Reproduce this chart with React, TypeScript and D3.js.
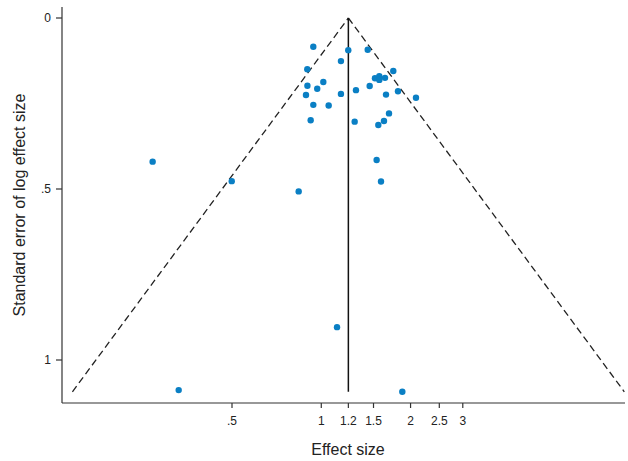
import React from "react";
import * as d3 from "d3";

const effectSizes: number[] = [
  0.940, 1.233, 1.434, 1.165, 0.897, 1.749, 1.517, 1.569, 1.569, 1.640,
  1.016, 0.898, 0.969, 0.888, 1.165, 1.309, 1.456, 1.653, 1.814, 2.086,
  0.940, 1.059, 0.921, 1.296, 1.557, 1.627, 1.692, 1.537, 1.590, 0.270,
  0.499, 0.839, 1.130, 0.3305, 1.876,
];
const standardErrors: number[] = [
  0.084, 0.094, 0.093, 0.126, 0.150, 0.155, 0.176, 0.170, 0.181, 0.175,
  0.187, 0.198, 0.207, 0.225, 0.222, 0.211, 0.199, 0.224, 0.214, 0.233,
  0.254, 0.256, 0.299, 0.303, 0.313, 0.301, 0.279, 0.415, 0.478, 0.420,
  0.477, 0.507, 0.904, 1.088, 1.093,
];
const pooledEffect = 1.234;
const xTickValues: number[] = [0.5, 1, 2, 2.5, 3, 1.5];
const xTickLabels: string[] = [".5", "1", "2", "2.5", "3", "1.5"];
const yTickValues: number[] = [0, 0.5, 1];
const yTickLabels: string[] = ["0", ".5", "1"];

const W = 628;
const H = 461;
const FONT = "'Liberation Sans', Arial, Helvetica, sans-serif";

export default function App() {
  const x = d3
    .scaleLog()
    .domain([Math.exp(-2.013), Math.exp(2.358)])
    .range([62, 625]);
  const y = d3.scaleLinear().domain([0, 1]).range([18, 360]);

  const seMax = d3.max(standardErrors) as number;
  const lnP = Math.log(pooledEffect);
  const funnel = d3
    .line<[number, number]>()
    .x((d) => x(Math.exp(d[0])))
    .y((d) => y(d[1]));
  const leftPts: [number, number][] = [
    [lnP - 1.96 * seMax, seMax],
    [lnP, 0],
  ];
  const rightPts: [number, number][] = [
    [lnP, 0],
    [lnP + 1.96 * seMax, seMax],
  ];

  const axisY = 403;
  const axisTop = 7;
  const axisColor = "#333";

  const allXTicks = [...xTickValues.map((v, i) => ({ v, l: xTickLabels[i] })), { v: pooledEffect, l: d3.format(".1f")(pooledEffect) }];

  return (
    <svg width={W} height={H} style={{ position: "absolute", left: 0, top: 0, background: "#fff" }}>
      <rect width={W} height={H} fill="#fff" />
      {/* funnel */}
      <path d={funnel(leftPts) || ""} fill="none" stroke="#222" strokeWidth={1.3} strokeDasharray="7,4" />
      <path d={funnel(rightPts) || ""} fill="none" stroke="#222" strokeWidth={1.3} strokeDasharray="7,4" />
      {/* pooled line */}
      <line x1={x(pooledEffect)} x2={x(pooledEffect)} y1={y(0)} y2={y(seMax)} stroke="#111" strokeWidth={1.5} />
      {/* points */}
      {effectSizes.map((e, i) => (
        <circle key={i} cx={x(e)} cy={y(standardErrors[i])} r={3.2} fill="#0a7fc4" />
      ))}
      {/* y axis */}
      <line x1={62} x2={62} y1={axisTop} y2={axisY} stroke={axisColor} strokeWidth={1.2} />
      {yTickValues.map((v, i) => (
        <g key={i}>
          <line x1={56} x2={62} y1={y(v)} y2={y(v)} stroke={axisColor} strokeWidth={1.2} />
          <text x={51} y={y(v) + 4.3} textAnchor="end" fontSize={12} fontFamily={FONT} fill="#222">
            {yTickLabels[i]}
          </text>
        </g>
      ))}
      {/* x axis */}
      <line x1={62} x2={625} y1={axisY} y2={axisY} stroke={axisColor} strokeWidth={1.2} />
      {allXTicks.map((t, i) => (
        <g key={i}>
          <line x1={x(t.v)} x2={x(t.v)} y1={axisY} y2={axisY + 5} stroke={axisColor} strokeWidth={1.2} />
          <text x={x(t.v)} y={425} textAnchor="middle" fontSize={12} fontFamily={FONT} fill="#222">
            {t.l}
          </text>
        </g>
      ))}
      <text x={348} y={455} textAnchor="middle" fontSize={16} fontFamily={FONT} fill="#222">
        Effect size
      </text>
      <text
        transform={`translate(25,205) rotate(-90)`}
        textAnchor="middle"
        fontSize={16}
        fontFamily={FONT}
        fill="#222"
      >
        Standard error of log effect size
      </text>
    </svg>
  );
}
